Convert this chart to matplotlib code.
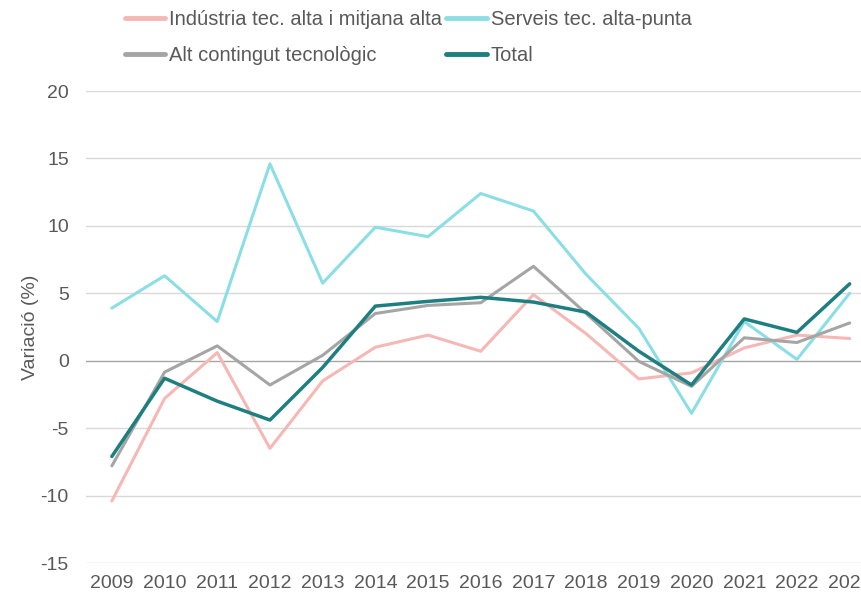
import matplotlib
matplotlib.use("Agg")
import matplotlib.pyplot as plt

plt.rcParams["font.family"] = ["Liberation Sans", "DejaVu Sans"]

years = list(range(2009, 2024))
industria = [-10.4, -2.8, 0.6, -6.5, -1.5, 1.0, 1.9, 0.7, 4.9, 2.0, -1.35, -0.9, 0.95, 1.9, 1.65]
serveis = [3.9, 6.3, 2.9, 14.6, 5.75, 9.9, 9.2, 12.4, 11.1, 6.4, 2.4, -3.9, 2.9, 0.1, 5.0]
alt_contingut = [-7.8, -0.85, 1.1, -1.8, 0.4, 3.5, 4.1, 4.3, 7.0, 3.5, -0.05, -1.9, 1.7, 1.35, 2.8]
total = [-7.1, -1.3, -3.0, -4.4, -0.5, 4.05, 4.4, 4.7, 4.35, 3.6, 0.7, -1.8, 3.1, 2.1, 5.7]

labels = ["Indústria tec. alta i mitjana alta", "Serveis tec. alta-punta",
          "Alt contingut tecnològic", "Total"]
colors = ["#F5B8B5", "#8BDFE4", "#A5A5A5", "#1E7F80"]
y_ticks = [-15, -10, -5, 0, 5, 10, 15, 20]

W, H = 862, 595
fig = plt.figure(figsize=(W / 100, H / 100), dpi=100)
left_px, top_px, bottom_px = 85.5, 91, 563
ax_w_px = W - left_px
ax = fig.add_axes([left_px / W, (H - bottom_px) / H, ax_w_px / W, (bottom_px - top_px) / H])

series = [industria, serveis, alt_contingut, total]
widths = [2.2, 2.2, 2.2, 2.5]
handles = []
for vals, lab, col, lw in zip(series, labels, colors, widths):
    h, = ax.plot(years, vals, color=col, lw=lw, label=lab, solid_capstyle="round", zorder=3)
    handles.append(h)

# one-year bins per category; the last one runs past the figure edge
step = ax_w_px / 52.7
ax.set_xlim(2008.5, 2008.5 + step)
ax.set_ylim(-15, 20)
ax.set_xticks(years)
ax.set_xticklabels([str(y) for y in years])
ax.set_yticks(y_ticks)
ax.set_yticklabels([str(v) for v in y_ticks])

for v in y_ticks:
    if v == 0:
        ax.axhline(v, color="#A6A6A6", lw=1.0, zorder=2)
    else:
        ax.axhline(v, color="#D9D9D9", lw=1.0, zorder=1)

for s in ax.spines.values():
    s.set_visible(False)
ax.tick_params(axis="both", length=0, labelsize=14, colors="#595959")
ax.tick_params(axis="y", pad=12)
ax.tick_params(axis="x", pad=9)
ax.set_ylabel("Variació (%)", fontsize=14, color="#595959")
ax.yaxis.set_label_coords((39 - left_px) / ax_w_px, 0.5)

# column-major fill: column 1 = Indústria / Alt contingut, column 2 = Serveis / Total
order = [handles[0], handles[2], handles[1], handles[3]]
leg = fig.legend(order, [h.get_label() for h in order], ncol=2,
                 loc="upper left", bbox_to_anchor=(125 / W, 1 - 10 / H),
                 frameon=False, fontsize=14.5, handlelength=2.0, handletextpad=0.2,
                 columnspacing=0.2, labelspacing=0.85, borderpad=0, borderaxespad=0)
for t in leg.get_texts():
    t.set_color("#595959")
for lh in leg.get_lines():
    lh.set_linewidth(3.5)

fig.savefig("out.png", dpi=100)
